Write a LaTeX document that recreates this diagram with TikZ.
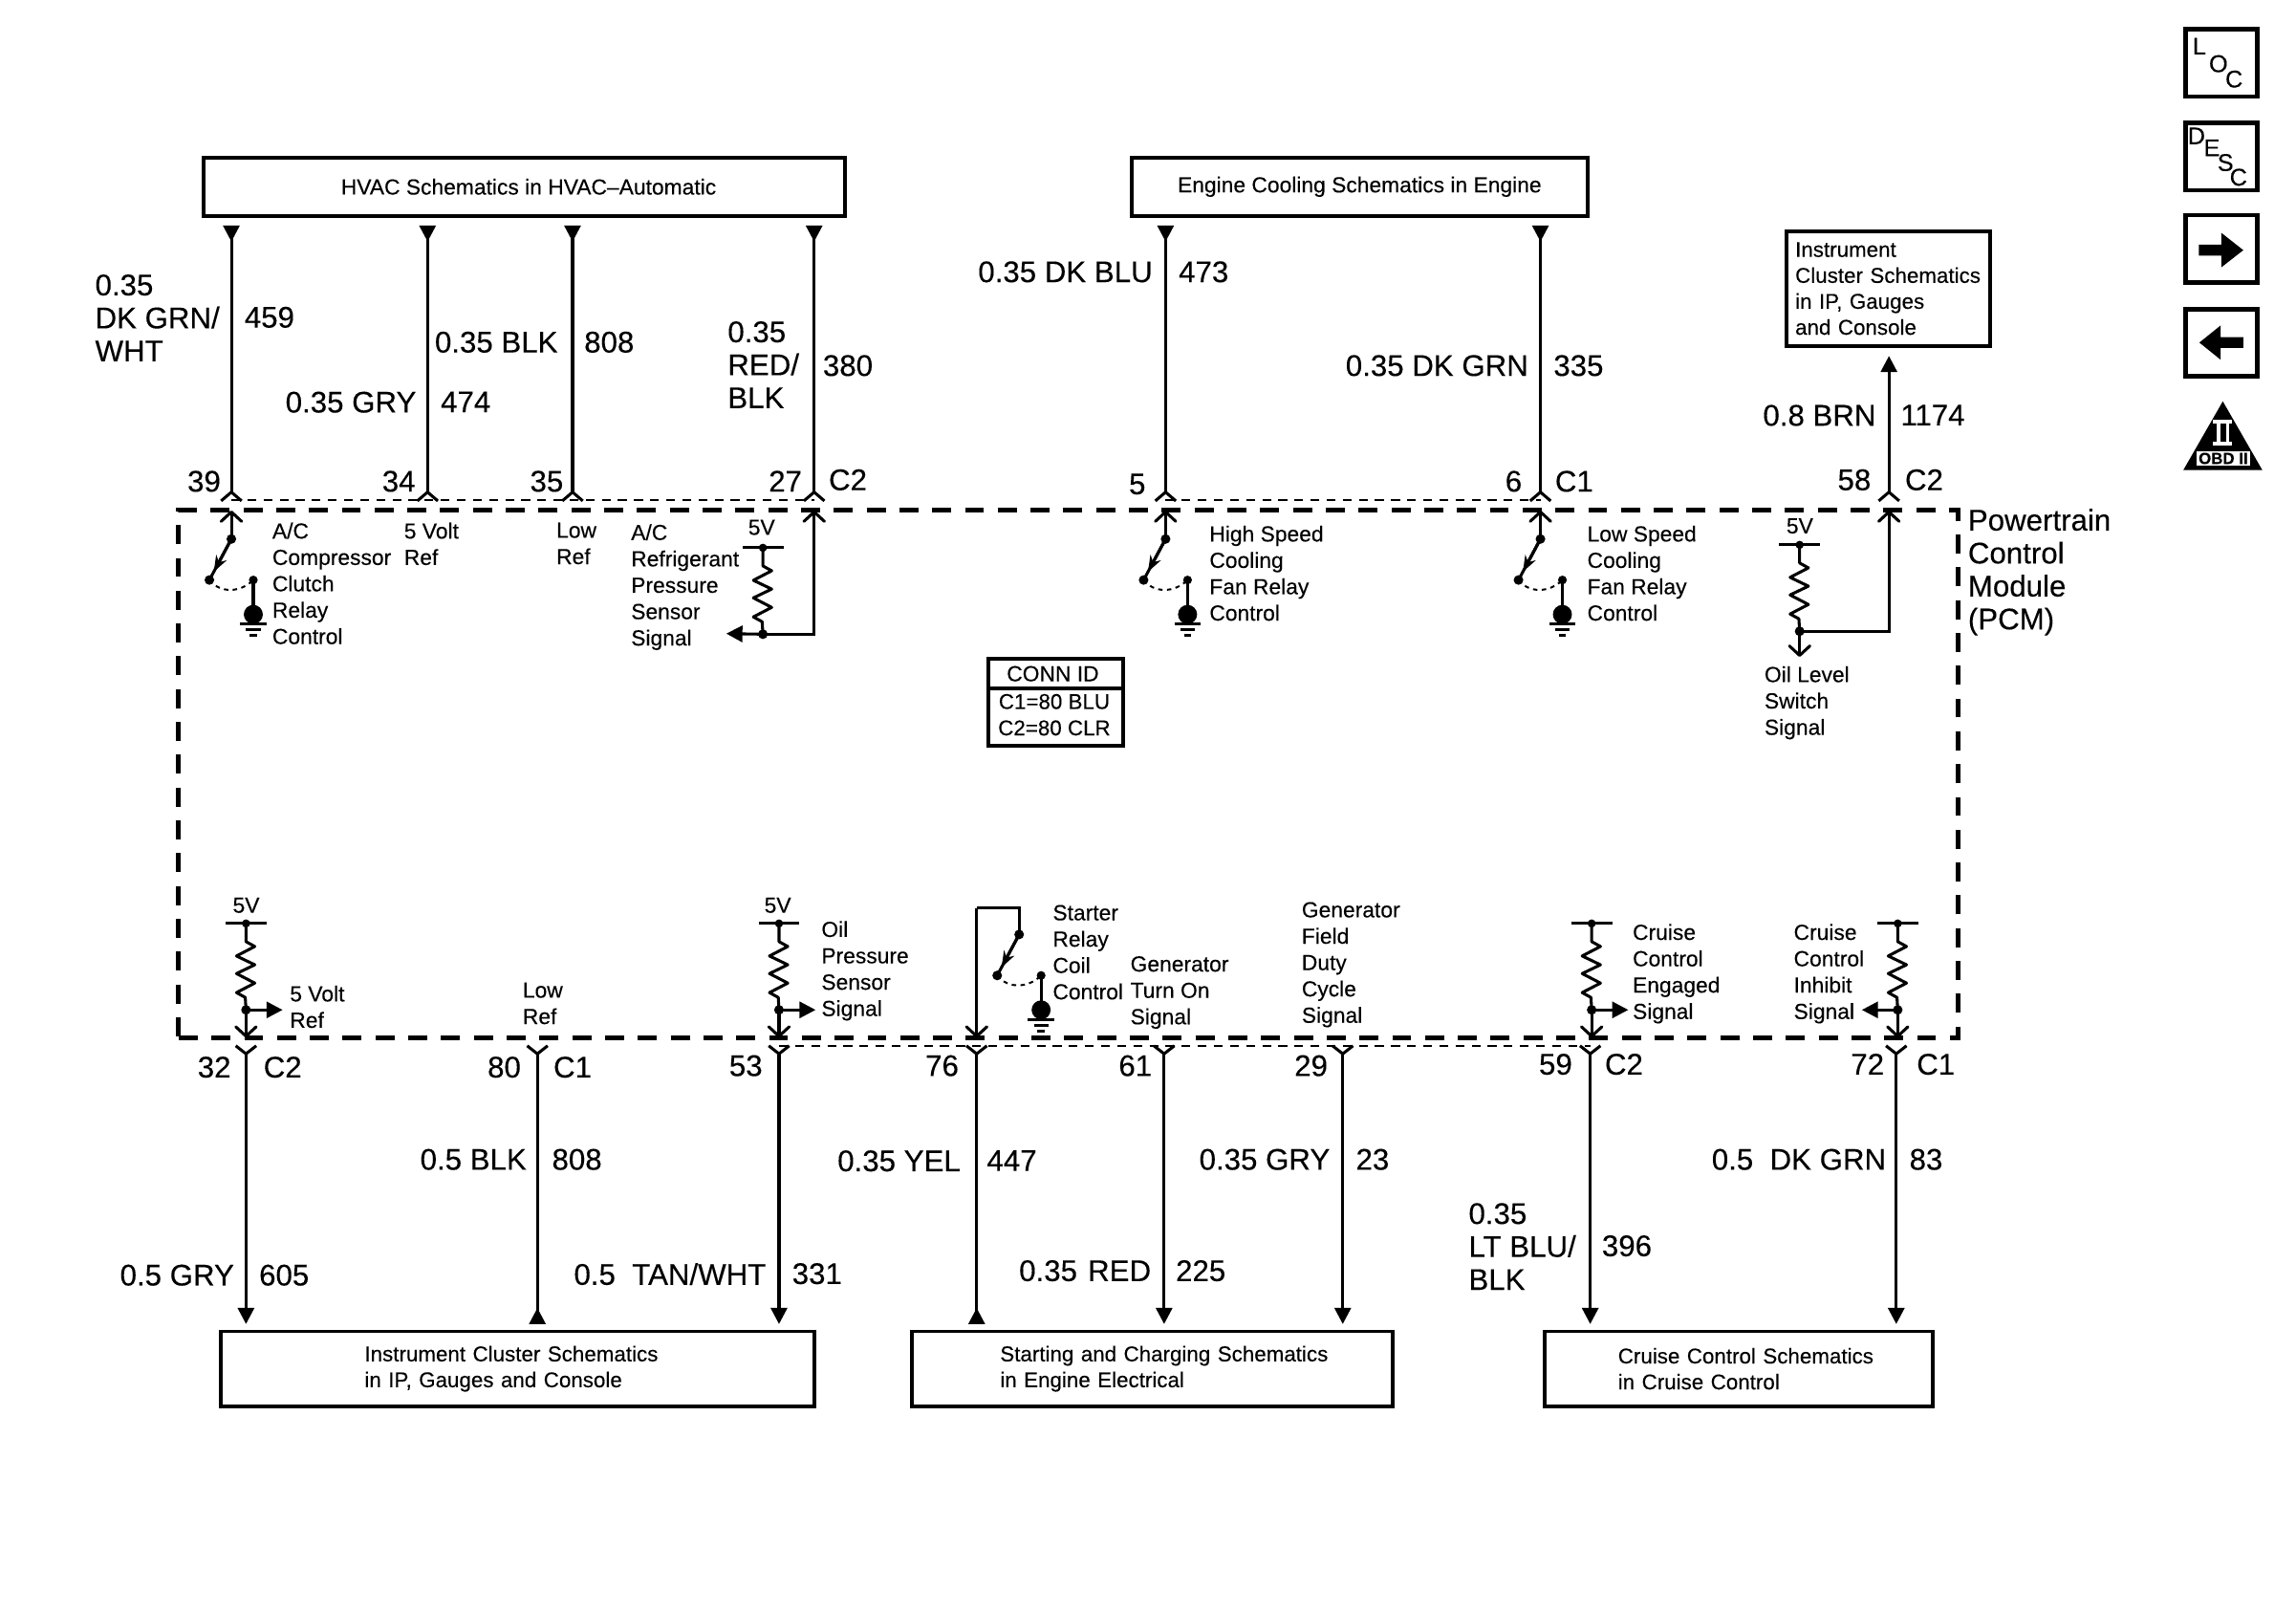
\documentclass[tikz,border=0pt]{standalone}
\usepackage{fontspec}
\setmainfont{Liberation Sans}[FakeBold=0.2]
\usetikzlibrary{arrows.meta,calc}
\newcounter{nn}
\tikzset{
 smtext/.style={anchor=north west,inner sep=0pt,outer sep=0pt,font=\fontsize{14.9}{18}\selectfont,align=left},
 bigtext/.style={anchor=north west,inner sep=0pt,outer sep=0pt,font=\fontsize{20.4}{22.5}\selectfont,align=left},
 wire/.style={line width=2pt},
 frame/.style={draw,line width=2.6pt,outer sep=0pt,inner ysep=0pt,font=\fontsize{14.6}{17.7}\selectfont,align=left},
 barb/.style={-{Straight Barb[length=6.5pt,width=14pt,round]}},
 fa/.style={-{Triangle[length=11pt,width=11pt]}},
 ra/.style={-{Triangle[reversed,length=11pt,width=11pt]}},
 rs/.style={{Triangle[reversed,length=11pt,width=11pt]}-},
 icon/.style={draw,line width=3pt,outer sep=0pt,inner sep=0pt,minimum width=49pt,minimum height=46pt},
 letter/.style={inner sep=0pt,font=\fontsize{16.5}{18}\selectfont},
}
\newcommand\st[3]{\stepcounter{nn}\node[smtext] (s\arabic{nn}) at (#1,#2-6.1) {#3};}
\newcommand\bt[3]{\stepcounter{nn}\node[bigtext] (b\arabic{nn}) at (#1,#2-7.6) {#3};}
\newcommand\toppin[2]{\coordinate (#1) at (#2,336);
  \draw[wire] (#2-7,342) -- (#1) -- (#2+7,342);}
\newcommand\botpin[2]{\coordinate (#1) at (#2,719.5);
  \draw[wire] (#2-7,714) -- (#1) -- (#2+7,714);}
\newcommand\pullup[3]{\coordinate (#1t) at (#2,#3); \coordinate (#1j) at (#2,#3+59);
  \draw[wire] (#2-14,#3) -- (#2+14,#3);
  \fill (#1t) circle (2.8pt);
  \draw[wire,line join=round] (#1t) -- ++(0,12.4) -- ++(6,3.3) -- ++(-12.5,6.5) -- ++(12.5,6) -- ++(-12.5,6) -- ++(12.5,6.5) -- ++(-12.5,6.5) -- ++(6,3.3) -- (#1j);
  \fill (#1j) circle (3.3pt);}
\newcommand\relay[3]{\coordinate (#1a) at (#2,#3); \coordinate (#1b) at (#2-15,#3+28); \coordinate (#1c) at (#2+15,#3+28); \coordinate (#1g) at (#2+15,#3+51.5);
  \fill (#1a) circle (3.3pt); \fill (#1b) circle (3.3pt); \fill (#1c) circle (3pt);
  \draw[wire] (#1a) -- (#1b);
  \draw[wire,-{Stealth[length=11pt,width=8pt]}] (#1a) -- ($(#1a)!0.8!(#1b)$);
  \draw[line width=1.3pt,dash pattern=on 3pt off 3pt] (#1b) .. controls (#2-8,#3+37) and (#2+6,#3+37) .. (#1c);
  \draw[wire] (#1c) -- (#1g);
  \fill (#1g) circle (6.5pt);
  \draw[wire] (#2+6,#3+58) -- (#2+24,#3+58);
  \draw[wire] (#2+10,#3+62) -- (#2+20,#3+62);
  \draw[wire] (#2+12.5,#3+66) -- (#2+17.5,#3+66);}
\begin{document}
\begin{tikzpicture}[x=1pt,y=-1pt]
\useasboundingbox (0,0) rectangle (1568,1100);
% PCM outline
\node[draw,line width=3.3pt,dash pattern=on 13pt off 9.4pt,outer sep=0pt,inner sep=0pt,minimum width=1215pt,minimum height=360pt] (pcm) at (729.5,528.5) {};
\bt{1344}{355}{Powertrain\\Control\\Module\\(PCM)}
% Boxes
\node[frame,minimum width=438pt,minimum height=40pt,inner xsep=0pt,font=\fontsize{14.9}{17.7}\selectfont] (hvac) at (358,127.5) {\hspace*{6pt}HVAC Schematics in HVAC–Automatic};
\node[frame,minimum width=311pt,minimum height=40pt,inner xsep=0pt,font=\fontsize{14.9}{17.7}\selectfont] (engine) at (928.5,127.5) {Engine Cooling Schematics in Engine};
\node[frame,inner xsep=6pt,text width=127pt,minimum height=78pt] (ipc) at (1289.5,197) {Instrument\\Cluster Schematics\\in IP, Gauges\\and Console};
\node[frame,inner xsep=6pt,text width=393pt,minimum height=51pt] (ic) at (353.5,934.5) {\hspace*{92pt}Instrument Cluster Schematics\\\hspace*{92pt}in IP, Gauges and Console};
\node[frame,inner xsep=6pt,text width=316pt,minimum height=51pt] (sc) at (787,934.5) {\hspace*{54pt}Starting and Charging Schematics\\\hspace*{54pt}in Engine Electrical};
\node[frame,inner xsep=6pt,text width=253pt,minimum height=51pt] (cc) at (1187.5,934.5) {\hspace*{44pt}Cruise Control Schematics\\\hspace*{44pt}in Cruise Control};
% Conn ID
\node[draw,line width=2.6pt,outer sep=0pt,inner sep=0pt,minimum width=92pt,minimum height=59pt] (conn) at (721,479.5) {};
\draw[wire] (conn.west |- 0,470) -- (conn.east |- 0,470);
\node[inner sep=0pt,font=\fontsize{14.9}{18}\selectfont] (connid) at (719,460) {CONN ID};
\node[inner sep=0pt,font=\fontsize{14.6}{18}\selectfont] (c1id) at (720,479) {C1=80 BLU};
\node[inner sep=0pt,font=\fontsize{14.6}{18}\selectfont] (c2id) at (720,497) {C2=80 CLR};
% thin dashed connector shells
\begin{scope}[line width=1.1pt,dash pattern=on 6pt off 5pt]
\draw (158,341.5) -- (556,341.5);
\draw (796,341.5) -- (1052,341.5);
\draw (532,714) -- (1086,714);
\end{scope}
% top pins
\toppin{p39}{158}\toppin{p34}{292}\toppin{p35}{391}\toppin{p27}{556}\toppin{p5}{796}\toppin{p6}{1052}\toppin{p58}{1290}
\foreach \n/\x in {39/158,34/292,35/391,27/556} \coordinate (t\n) at (\x,154);
\foreach \n/\x in {5/796,6/1052} \coordinate (t\n) at (\x,154);
\coordinate (t58) at (1290,243);
\foreach \n in {39,34,35,27,5,6} \draw[wire,rs] (t\n) -- (p\n);
\draw[wire,fa] (p58) -- (t58);
% bottom pins
\botpin{q32}{168}\botpin{q80}{367}\botpin{q53}{532}\botpin{q76}{667}\botpin{q61}{795}\botpin{q29}{917}\botpin{q59}{1086}\botpin{q72}{1295}
\foreach \n/\x in {32/168,80/367,53/532,76/667,61/795,29/917,59/1086,72/1295} \coordinate (e\n) at (\x,904);
\foreach \n in {32,53,61,29,59,72} \draw[wire,fa] (q\n) -- (e\n);
\foreach \n in {80,76} \draw[wire,ra] (q\n) -- (e\n);
% top internal
\relay{ra}{158}{368}\relay{rb}{796}{368}\relay{rc}{1052}{368}
\draw[wire,barb] (raa) -- (raa |- pcm.north);
\draw[wire,barb] (rba) -- (rba |- pcm.north);
\draw[wire,barb] (rca) -- (rca |- pcm.north);
\pullup{ua}{521}{374}
\draw[wire,barb] (uaj) -| (p27 |- pcm.north);
\coordinate (uaa) at (496,432.6);
\draw[wire,fa] (uaj) -- (uaa);
\pullup{ub}{1229}{372}
\draw[wire,barb] (ubj) -| (p58 |- pcm.north);
\coordinate (ubd) at (1229,448.5);
\draw[wire,barb] (ubj) -- (ubd);
% bottom internal
\pullup{ud}{168}{630.5}\pullup{ue}{532}{630.5}\pullup{uf}{1087}{630.5}\pullup{ug}{1296}{630.5}
\foreach \u in {ud,ue,uf,ug} \draw[wire,barb] (\u j) -- (\u j |- pcm.south);
\coordinate (da) at (193,689.5);\coordinate (db) at (557,689.5);\coordinate (dc) at (1112,689.5);\coordinate (dd) at (1271.5,689.5);
\draw[wire,fa] (udj) -- (da);\draw[wire,fa] (uej) -- (db);\draw[wire,fa] (ufj) -- (dc);\draw[wire,fa] (ugj) -- (dd);
\relay{rs}{696}{638}
\coordinate (st1) at (696,620);\coordinate (st2) at (667,620);
\draw[wire] (rsa) -- (st1) -- (st2);
\draw[wire,barb] (st2) -- (st2 |- pcm.south);
% top wire labels
\bt{65}{195}{0.35\\DK GRN/\\WHT}\bt{167}{217}{459}
\bt{297}{234}{0.35 BLK}\bt{399}{234}{808}
\bt{195}{275}{0.35 GRY}\bt{301}{275}{474}
\bt{497}{227}{0.35\\RED/\\BLK}\bt{562}{250}{380}
\bt{668}{186}{0.35 DK BLU}\bt{805}{186}{473}
\bt{919}{250}{0.35 DK GRN}\bt{1061}{250}{335}
\bt{1204}{284}{0.8 BRN}\bt{1298}{284}{1174}
\bt{128}{329}{39}\bt{261}{329}{34}\bt{362}{329}{35}\bt{525}{329}{27}\bt{566}{328}{C2}
\bt{771}{331}{5}\bt{1028}{329}{6}\bt{1062}{329}{C1}\bt{1255}{328}{58}\bt{1301}{328}{C2}
% bottom wire labels
\bt{135}{729}{32}\bt{180}{729}{C2}\bt{333}{729}{80}\bt{378}{729}{C1}
\bt{498}{728}{53}\bt{632}{728}{76}\bt{764}{728}{61}\bt{884}{728}{29}\bt{1051}{727}{59}\bt{1096}{727}{C2}\bt{1264}{727}{72}\bt{1309}{727}{C1}
\bt{287}{792}{0.5 BLK}\bt{377}{792}{808}
\bt{82}{871}{0.5 GRY}\bt{177}{871}{605}
\bt{392}{870}{0.5\ \ TAN/WHT}\bt{541}{870}{331}
\bt{572}{793}{0.35 YEL}\bt{674}{793}{447}
\bt{696}{868}{0.35\ \hspace{1.6pt}RED}\bt{803}{868}{225}
\bt{819}{792}{0.35 GRY}\bt{926}{792}{23}
\bt{1003}{829}{0.35\\LT BLU/\\BLK}\bt{1094}{851}{396}
\bt{1169}{792}{0.5\ \ DK GRN}\bt{1304}{792}{83}
% signal labels
\st{186}{363}{A/C\\Compressor\\Clutch\\Relay\\Control}
\st{276}{363}{5 Volt\\Ref}
\st{380}{363}{Low\\Ref}
\st{431}{364}{A/C\\Refrigerant\\Pressure\\Sensor\\Signal}
\st{511}{361}{5V}
\st{826}{365}{High Speed\\Cooling\\Fan Relay\\Control}
\st{1084}{365}{Low Speed\\Cooling\\Fan Relay\\Control}
\st{1220}{360}{5V}
\st{1205}{461}{Oil Level\\Switch\\Signal}
\st{159}{619}{5V}
\st{198}{679}{5 Volt\\Ref}
\st{357}{677}{Low\\Ref}
\st{522}{619}{5V}
\st{561}{635}{Oil\\Pressure\\Sensor\\Signal}
\st{719}{624}{Starter\\Relay\\Coil\\Control}
\st{772}{659}{Generator\\Turn On\\Signal}
\st{889}{622}{Generator\\Field\\Duty\\Cycle\\Signal}
\st{1115}{637}{Cruise\\Control\\Engaged\\Signal}
\st{1225}{637}{Cruise\\Control\\Inhibit\\Signal}
% icons
\node[icon] (loc) at (1517,43) {};
\node[letter] (l1) at (1502,31.5) {L};\node[letter] (l2) at (1515,43.5) {O};\node[letter] (l3) at (1525.7,54) {C};
\node[icon] (desc) at (1517,107) {};
\node[letter] (d1) at (1500,92.8) {D};\node[letter] (d2) at (1510.5,101) {E};\node[letter] (d3) at (1519.8,111) {S};\node[letter] (d4) at (1528.7,121) {C};
\node[icon] (nxt) at (1517,170) {};
\fill (1501.7,167) -- (1517,167) -- (1517,159) -- (1532,170.8) -- (1517,182.5) -- (1517,174.5) -- (1501.7,174.5) -- cycle;
\node[icon] (prv) at (1517,234) {};
\fill (1532,230.2) -- (1516.5,230.2) -- (1516.5,222.2) -- (1502,233.9) -- (1516.5,245.6) -- (1516.5,237.6) -- (1532,237.6) -- cycle;
\fill (1518,274) -- (1545,321) -- (1491,321) -- cycle;
\fill[white] (1511.5,286.5) rectangle (1524,289);
\fill[white] (1511.5,301.5) rectangle (1524,304);
\fill[white] (1514,289) rectangle (1516.5,301.5);
\fill[white] (1520,289) rectangle (1522.5,301.5);
\node[fill=white,inner sep=0pt,minimum width=36.7pt,minimum height=10pt,font=\bfseries\fontsize{11}{11}\selectfont] (obd) at (1518.3,313) {OBD II};
\end{tikzpicture}
\end{document}
